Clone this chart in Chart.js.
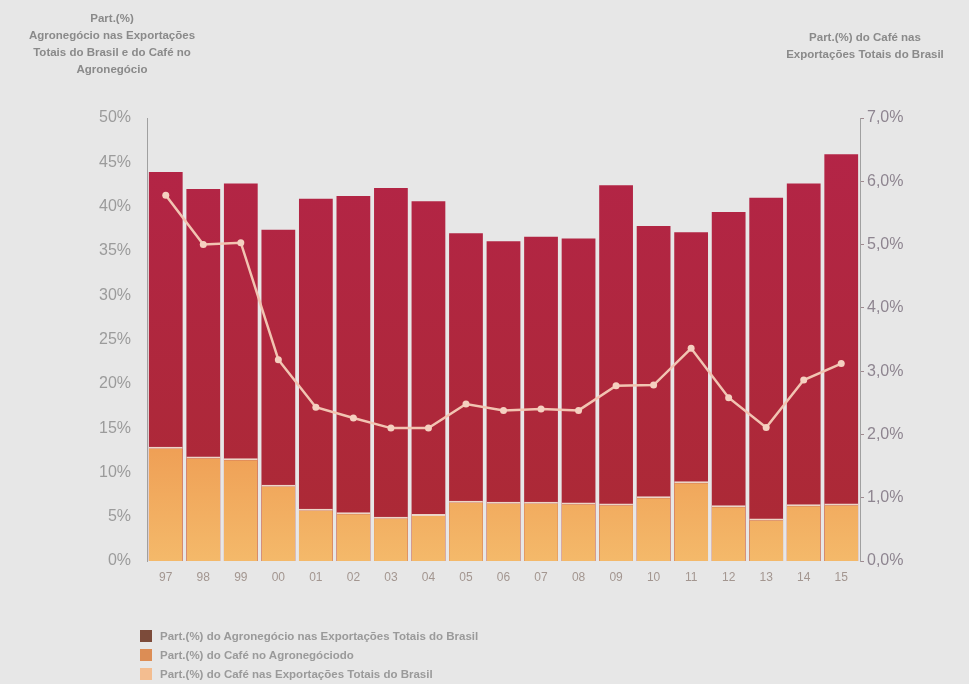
<!DOCTYPE html>
<html>
<head>
<meta charset="utf-8">
<script src="https://cdn.jsdelivr.net/npm/chart.js@4/dist/chart.umd.min.js"></script>
<style>
  html, body { margin: 0; padding: 0; background: #e7e7e7; }
  #wrap { position: relative; width: 969px; height: 684px; font-family: "Liberation Sans", Arial, sans-serif; }
  canvas { position: absolute; left: 0; top: 0; }
  .ttl { position: absolute; text-align: center; font-weight: bold; font-size: 11.5px; line-height: 17px; color: #8a8a8a; }
  #legend { position: absolute; left: 140px; top: 626px; font-weight: bold; font-size: 11.5px; color: #9a9a9a; }
  #legend div { display: flex; align-items: center; height: 19px; }
  #legend span.sw { display: inline-block; width: 12px; height: 12px; margin-right: 8px; }
</style>
</head>
<body>
<div id="wrap">
  <canvas id="c" width="969" height="684"></canvas>
  <div class="ttl" style="left:0px; top:10px; width:224px;">Part.(%)<br>Agronegócio nas Exportações<br>Totais do Brasil e do Café no<br>Agronegócio</div>
  <div class="ttl" style="left:752px; top:29px; width:226px;">Part.(%) do Café nas<br>Exportações Totais do Brasil</div>
  <div id="legend"></div>
</div>
<script>
// Years (two-digit labels)
const years = ['97','98','99','00','01','02','03','04','05','06','07','08','09','10','11','12','13','14','15'];
// Share of agribusiness in total Brazilian exports (%)
const agroShare = [43.9, 42.0, 42.6, 37.4, 40.9, 41.2, 42.1, 40.6, 37.0, 36.1, 36.6, 36.4, 42.4, 37.8, 37.1, 39.4, 41.0, 42.6, 45.9];
// Share of coffee in agribusiness exports (%)
const coffeeInAgro = [12.9, 11.8, 11.6, 8.6, 5.9, 5.5, 5.0, 5.3, 6.8, 6.7, 6.7, 6.6, 6.5, 7.3, 9.0, 6.3, 4.8, 6.4, 6.5];
// Share of coffee in total Brazilian exports (%) – right axis
const coffeeInTotal = [5.78, 5.00, 5.03, 3.18, 2.43, 2.26, 2.10, 2.10, 2.48, 2.38, 2.40, 2.38, 2.77, 2.78, 3.36, 2.58, 2.11, 2.86, 3.12];
// Axis tick values
const leftTicks = [0, 5, 10, 15, 20, 25, 30, 35, 40, 45, 50];
const rightTicks = [0, 1, 2, 3, 4, 5, 6, 7];

const labels = [
  'Part.(%) do Agronegócio nas Exportações Totais do Brasil',
  'Part.(%) do Café no Agronegóciodo',
  'Part.(%) do Café nas Exportações Totais do Brasil'
];
const swatches = ['#7c4b3a', '#dc8d55', '#f3bd90'];

function vGrad(ctx, area, top, bottom) {
  const g = ctx.createLinearGradient(0, area.top, 0, area.bottom);
  g.addColorStop(0, top);
  g.addColorStop(1, bottom);
  return g;
}

const ctx = document.getElementById('c').getContext('2d');
new Chart(ctx, {
  data: {
    labels: years,
    datasets: [
      {
        type: 'line',
        label: labels[2],
        data: coffeeInTotal,
        yAxisID: 'y1',
        borderColor: '#f2c4b2',
        backgroundColor: '#f5d0c0',
        borderWidth: 2.5,
        pointRadius: 3.5,
        pointBorderWidth: 0,
        tension: 0,
        order: 0
      },
      {
        type: 'bar',
        label: labels[1],
        data: coffeeInAgro,
        yAxisID: 'y',
        backgroundColor: (c) => {
          const a = c.chart.chartArea;
          if (!a) return '#f0a458';
          const g = c.chart.ctx.createLinearGradient(0, a.top + (a.bottom - a.top) * 0.7, 0, a.bottom);
          g.addColorStop(0, '#ee9b52');
          g.addColorStop(1, '#f4b96a');
          return g;
        },
        borderColor: '#ecd6c8',
        borderWidth: { top: 2, left: 0, right: 0, bottom: 0 },
        borderSkipped: false,
        grouped: false,
        barPercentage: 0.9,
        categoryPercentage: 1.0,
        order: 1
      },
      {
        type: 'bar',
        label: labels[0],
        data: agroShare,
        yAxisID: 'y',
        backgroundColor: (c) => {
          const a = c.chart.chartArea;
          if (!a) return '#b22a3c';
          return vGrad(c.chart.ctx, a, '#b42448', '#ab2a34');
        },
        grouped: false,
        barPercentage: 0.9,
        categoryPercentage: 1.0,
        order: 2
      }
    ]
  },
  options: {
    responsive: false,
    animation: false,
    layout: { padding: { top: 118, left: 0, right: 0, bottom: 0 } },
    plugins: {
      legend: { display: false },
      tooltip: { enabled: false }
    },
    scales: {
      x: {
        grid: { display: false, drawTicks: false },
        border: { display: false },
        ticks: { color: '#a39690', font: { size: 12, family: 'Liberation Sans' }, padding: 9 },
        afterFit: (s) => { s.height = 123; }
      },
      y: {
        position: 'left',
        min: 0, max: 50,
        afterBuildTicks: (s) => { s.ticks = leftTicks.map(v => ({ value: v })); },
        ticks: {
          color: '#9b9b9b',
          font: { size: 16, family: 'Liberation Sans' },
          padding: 8,
          callback: (v) => v + '%'
        },
        grid: { display: false, drawOnChartArea: false },
        border: { display: true, color: '#a0a0a0', width: 1 },
        afterFit: (s) => { s.width = 147; }
      },
      y1: {
        position: 'right',
        min: 0, max: 7,
        afterBuildTicks: (s) => { s.ticks = rightTicks.map(v => ({ value: v })); },
        ticks: {
          color: '#8e8590',
          font: { size: 16, family: 'Liberation Sans' },
          padding: 3,
          callback: (v) => v.toFixed(1).replace('.', ',') + '%'
        },
        grid: { drawOnChartArea: false, tickLength: 4, color: '#a08a90' },
        border: { display: true, color: '#a0a0a0', width: 1 },
        afterFit: (s) => { s.width = 109; }
      }
    }
  }
});

// Legend list below the chart
const lg = document.getElementById('legend');
labels.forEach((t, i) => {
  const row = document.createElement('div');
  const sw = document.createElement('span');
  sw.className = 'sw';
  sw.style.background = swatches[i];
  row.appendChild(sw);
  row.appendChild(document.createTextNode(t));
  lg.appendChild(row);
});
</script>
</body>
</html>
